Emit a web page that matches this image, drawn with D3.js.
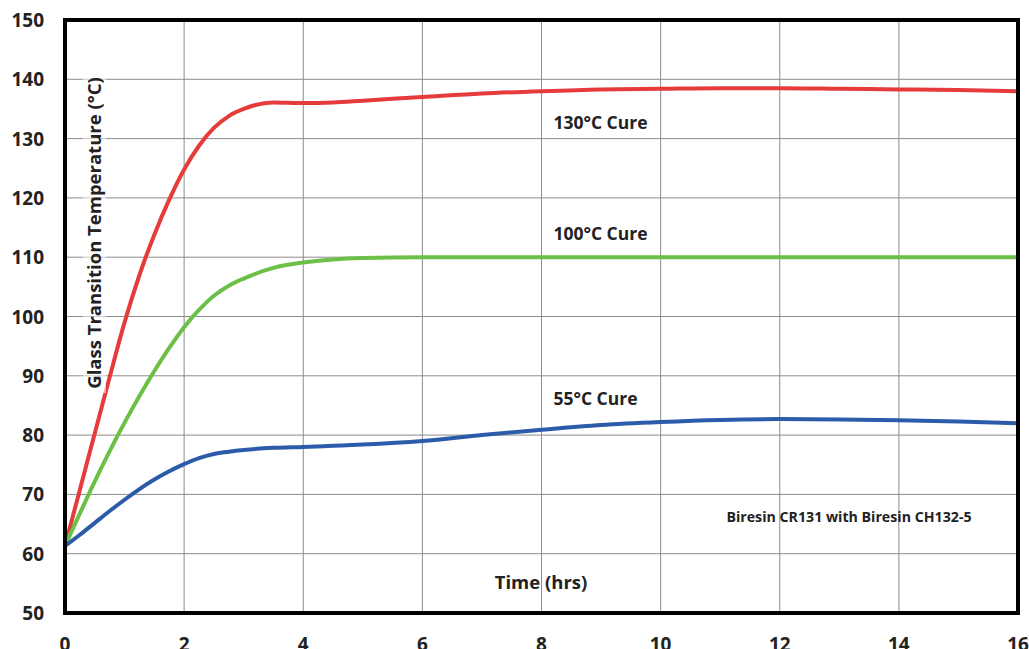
<!DOCTYPE html>
<html>
<head>
<meta charset="utf-8">
<style>
  body { margin: 0; background: #fff; }
  svg text { font-family: "Open Sans", "DejaVu Sans", sans-serif; font-weight: 700; fill: #222; }
</style>
</head>
<body>
<div id="chart"></div>
<script src="https://cdn.jsdelivr.net/npm/d3@7/dist/d3.min.js"></script>
<script>
    var width = 1029,
        height = 649,
        plotLeft = 65, plotRight = 1018, plotTop = 20, plotBottom = 613;

    // x ticks, y ticks
    var xTicks = [0, 2, 4, 6, 8, 10, 12, 14, 16];
    var yTicks = [50, 60, 70, 80, 90, 100, 110, 120, 130, 140, 150];

    var hours   = [0, 0.25, 0.5, 0.75, 1, 1.25, 1.5, 1.75, 2, 2.25, 2.5, 2.75, 3, 3.5, 4, 4.5, 5, 6, 7, 8, 9, 10, 11, 12, 13, 14, 15, 16];
    var cure130 = [61.3, 70.8, 80.3, 89.8, 99, 107, 113.8, 119.7, 124.8, 128.8, 131.8, 133.8, 135, 136.1, 136, 136.1, 136.4, 137, 137.6, 138, 138.3, 138.4, 138.5, 138.5, 138.4, 138.3, 138.2, 138];
    var cure100 = [61.3, 66.8, 72.2, 77.3, 82.1, 86.6, 90.8, 94.7, 98.2, 101.1, 103.5, 105.2, 106.4, 108.2, 109.1, 109.6, 109.85, 110, 110, 110, 110, 110, 110, 110, 110, 110, 110, 110];
    var cure55  = [61.3, 63.2, 65.2, 67.2, 69.1, 70.9, 72.5, 73.9, 75.1, 76.1, 76.8, 77.2, 77.5, 77.85, 78, 78.2, 78.4, 79, 80, 80.9, 81.7, 82.2, 82.55, 82.7, 82.65, 82.5, 82.3, 82];

    var seriesNames = ['130°C Cure', '100°C Cure', '55°C Cure'];
    var seriesColors = ['#e53b3a', '#6cbf47', '#2b5ba9'];
    var labelPos = [[8.2, 131.6], [8.2, 112.9], [8.2, 85.1]];

    var x = d3.scaleLinear().domain([0, 16]).range([plotLeft, plotRight]);
    var y = d3.scaleLinear().domain([50, 150]).range([plotBottom, plotTop]);

    var svg = d3.select('#chart')
        .append('svg')
        .attr('width', width)
        .attr('height', height);

    // grid
    svg.append('g')
        .selectAll('line')
        .data(xTicks)
        .enter().append('line')
        .attr('x1', function(d){ return x(d); })
        .attr('x2', function(d){ return x(d); })
        .attr('y1', plotTop).attr('y2', plotBottom)
        .attr('stroke', '#8c8c8c').attr('stroke-width', 1);

    svg.append('g')
        .selectAll('line')
        .data(yTicks)
        .enter().append('line')
        .attr('x1', plotLeft).attr('x2', plotRight)
        .attr('y1', function(d){ return y(d); })
        .attr('y2', function(d){ return y(d); })
        .attr('stroke', '#8c8c8c').attr('stroke-width', 1);

    // tick labels
    svg.append('g')
        .selectAll('text')
        .data(yTicks)
        .enter().append('text')
        .attr('x', 44)
        .attr('y', function(d){ return y(d) + 7; })
        .attr('text-anchor', 'end')
        .style('font-size', '19px')
        .text(function(d){ return d; });

    svg.append('g')
        .selectAll('text')
        .data(xTicks)
        .enter().append('text')
        .attr('x', function(d){ return x(d); })
        .attr('y', 651)
        .attr('text-anchor', 'middle')
        .style('font-size', '19px')
        .text(function(d){ return d; });

    // lines
    var line = d3.line()
        .x(function(d){ return x(d[0]); })
        .y(function(d){ return y(d[1]); })
        .curve(d3.curveMonotoneX);

    var series = [cure130, cure100, cure55];
    series.forEach(function(vals, i){
        svg.append('path')
            .attr('d', line(hours.map(function(h, j){ return [h, vals[j]]; })))
            .attr('fill', 'none')
            .attr('stroke', seriesColors[i])
            .attr('stroke-width', 4)
            .attr('stroke-linecap', 'round');

        svg.append('text')
            .attr('x', x(labelPos[i][0]))
            .attr('y', y(labelPos[i][1]))
            .style('font-size', '17.5px')
            .text(seriesNames[i]);
    });

    // y axis title, with a faded box behind it
    var yTitle = svg.append('g').attr('transform', 'translate(101,233) rotate(-90)');
    yTitle.append('rect')
        .attr('x', -160).attr('y', -18).attr('width', 320).attr('height', 23)
        .attr('fill', '#fff').attr('opacity', 0.55);
    yTitle.append('text')
        .attr('text-anchor', 'middle')
        .style('font-size', '18.5px')
        .text('Glass Transition Temperature (°C)');

    svg.append('text')
        .attr('x', 541).attr('y', 589)
        .attr('text-anchor', 'middle')
        .style('font-size', '18.5px')
        .text('Time (hrs)');

    svg.append('text')
        .attr('x', 849).attr('y', 522)
        .attr('text-anchor', 'middle')
        .style('font-size', '14.2px')
        .text('Biresin CR131 with Biresin CH132-5');

    // frame
    svg.append('rect')
        .attr('x', plotLeft).attr('y', plotTop)
        .attr('width', plotRight - plotLeft).attr('height', plotBottom - plotTop)
        .attr('fill', 'none')
        .attr('stroke', '#000')
        .attr('stroke-width', 4);
</script>
</body>
</html>
